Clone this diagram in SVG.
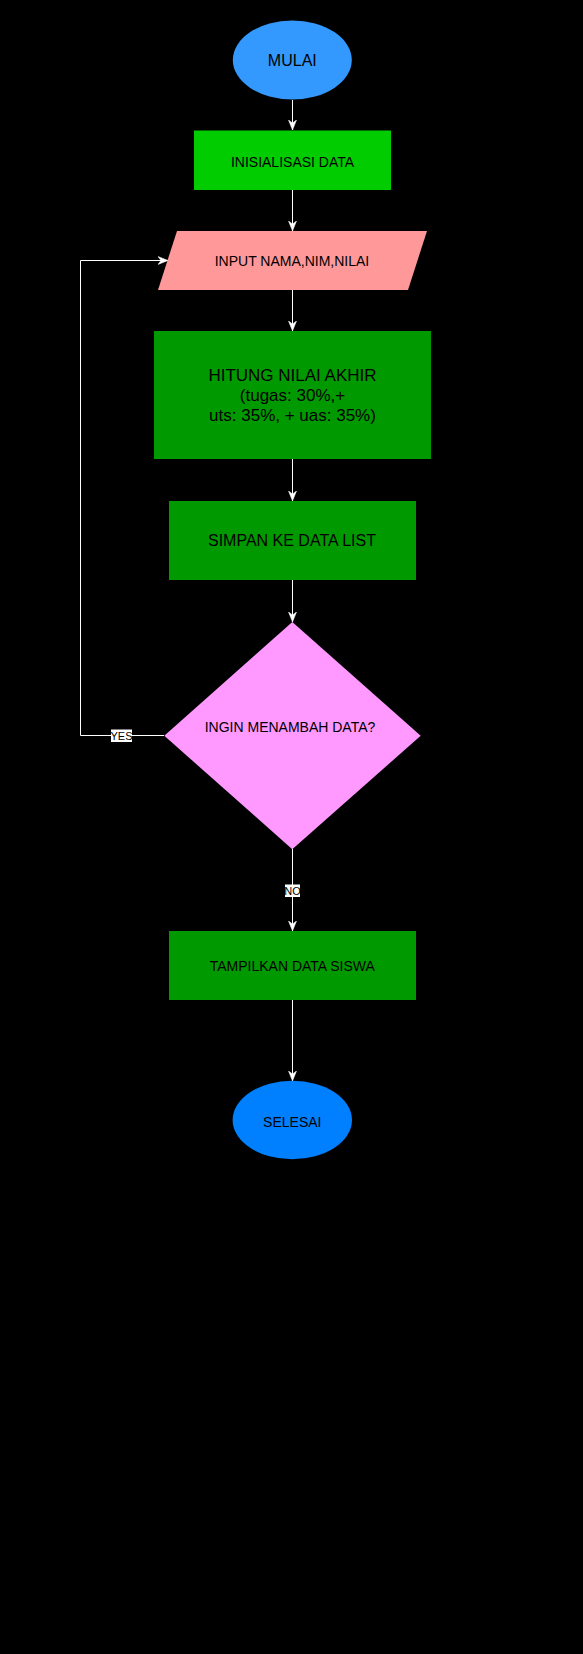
<svg xmlns="http://www.w3.org/2000/svg" width="583" height="1654" viewBox="0 0 583 1654">
<defs>
<marker id="arr" markerUnits="userSpaceOnUse" markerWidth="10" markerHeight="10" viewBox="0 0 10 10" refX="10" refY="5" orient="auto">
<path d="M0,1 L10,5 L0,9 L3,5 Z" fill="#FFFFFF" stroke="#FFFFFF" stroke-width="0.5"/>
</marker>
<style>
.t{font-family:"Liberation Sans",Helvetica,Arial,sans-serif;fill:#000000;text-anchor:middle}
.c{fill:none;stroke:#FFFFFF;stroke-width:1}
.lbl{font-family:"Liberation Sans",Helvetica,Arial,sans-serif;fill:#000000;text-anchor:middle;font-size:11px}
</style>
</defs>
<rect x="0" y="0" width="583" height="1654" fill="#000000"/>
<g id="connectors">
<line class="c" x1="292.5" y1="100" x2="292.5" y2="130" marker-end="url(#arr)"/>
<line class="c" x1="292.5" y1="190" x2="292.5" y2="231" marker-end="url(#arr)"/>
<line class="c" x1="292.5" y1="290" x2="292.5" y2="331" marker-end="url(#arr)"/>
<line class="c" x1="292.5" y1="459" x2="292.5" y2="501" marker-end="url(#arr)"/>
<line class="c" x1="292.5" y1="580" x2="292.5" y2="622" marker-end="url(#arr)"/>
<polyline class="c" points="164,735.5 80.5,735.5 80.5,260.5 168,260.5" marker-end="url(#arr)"/>
<line class="c" x1="292.5" y1="849" x2="292.5" y2="931" marker-end="url(#arr)"/>
<line class="c" x1="292.5" y1="1000" x2="292.5" y2="1081" marker-end="url(#arr)"/>
<rect x="111" y="729.5" width="21" height="12.5" fill="#FFFFFF"/>
<text class="lbl" x="121.5" y="739.5">YES</text>
<rect x="285" y="884.5" width="15" height="12.5" fill="#FFFFFF"/>
<text class="lbl" x="292.5" y="894.5">NO</text>
</g>
<g id="mulai">
<ellipse cx="292.3" cy="60" rx="59.5" ry="39.5" fill="#3399FF"/>
<text class="t" x="292.3" y="66" font-size="16">MULAI</text>
</g>
<g id="inisialisasi">
<rect x="194" y="130.5" width="197" height="59.5" fill="#00CC00"/>
<text class="t" x="292.5" y="166.5" font-size="14">INISIALISASI DATA</text>
</g>
<g id="input">
<polygon points="177,231 427,231 408,290 158,290" fill="#FF9999"/>
<text class="t" x="292" y="266" font-size="14">INPUT NAMA,NIM,NILAI</text>
</g>
<g id="hitung">
<rect x="154" y="331" width="277" height="128" fill="#009900"/>
<text class="t" x="292.5" y="381" font-size="17">HITUNG NILAI AKHIR</text>
<text class="t" x="292.5" y="401" font-size="17">(tugas: 30%,+</text>
<text class="t" x="292.5" y="420.5" font-size="17">uts: 35%, + uas: 35%)</text>
</g>
<g id="simpan">
<rect x="169" y="501" width="247" height="79" fill="#009900"/>
<text class="t" x="292" y="546" font-size="16">SIMPAN KE DATA LIST</text>
</g>
<g id="decision">
<polygon points="292.3,622 420.7,735.7 292.3,849.3 164.3,735.7" fill="#FF99FF"/>
<text class="t" x="290" y="732" font-size="14">INGIN MENAMBAH DATA?</text>
</g>
<g id="tampilkan">
<rect x="169" y="931" width="247" height="69" fill="#009900"/>
<text class="t" x="292.3" y="971" font-size="14">TAMPILKAN DATA SISWA</text>
</g>
<g id="selesai">
<ellipse cx="292.3" cy="1120" rx="59.7" ry="39.3" fill="#007FFF"/>
<text class="t" x="292.3" y="1126.5" font-size="14">SELESAI</text>
</g>
</svg>
